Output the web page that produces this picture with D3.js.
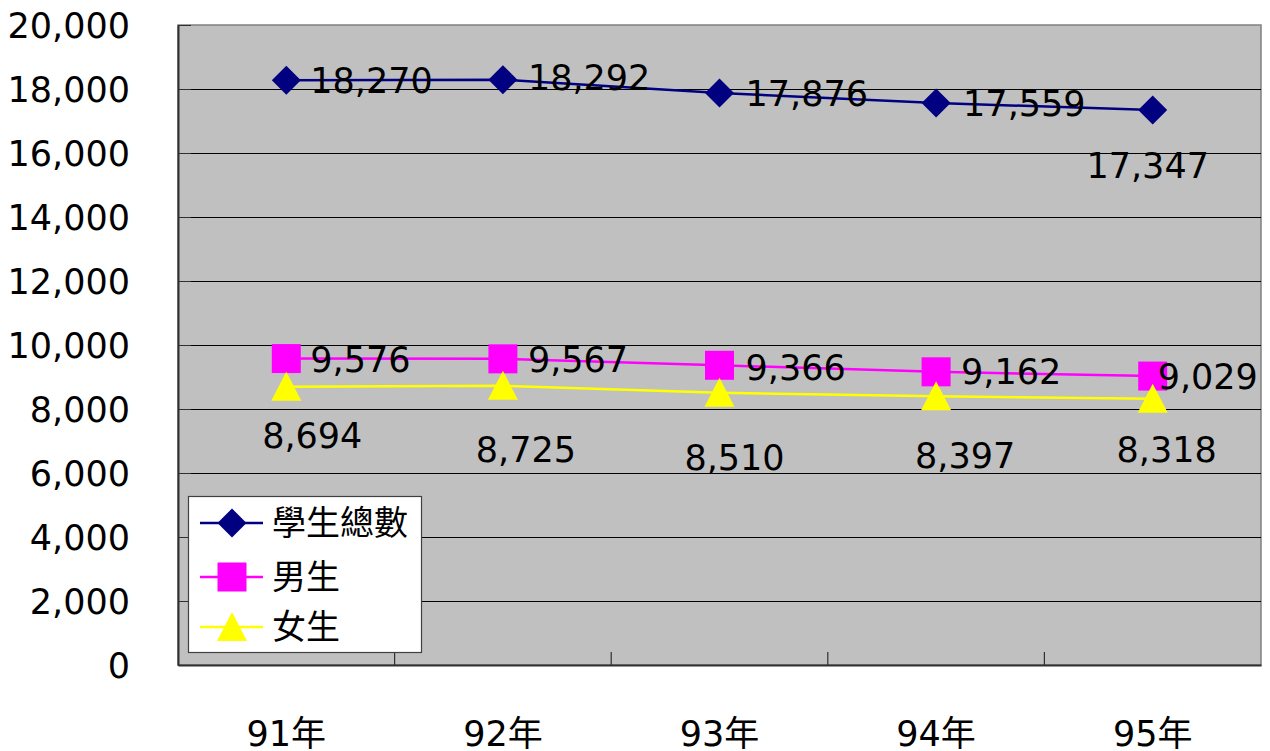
<!DOCTYPE html>
<html><head><meta charset="utf-8">
<script src="https://cdn.jsdelivr.net/npm/d3@7"></script>
<style>body{margin:0;background:#fff}svg{display:block}</style>
</head><body>
<svg id="c" width="1270" height="751"></svg>
<script>
const categories = ["91年","92年","93年","94年","95年"];
const totalStudents = [18270,18292,17876,17559,17347];
const maleStudents = [9576,9567,9366,9162,9029];
const femaleStudents = [8694,8725,8510,8397,8318];
const yTicks = [0,2000,4000,6000,8000,10000,12000,14000,16000,18000,20000];
const seriesNames = ["學生總數","男生","女生"];

// label placement (offsets from the point, in px) – styling, not data
const labelPlacement = [
  [[24,0,"start"],[25,-2,"start"],[26,0,"start"],[27,0,"start"],[-5,56,"middle"]],
  [[24,1,"start"],[25,1,"start"],[26,2,"start"],[25,0,"start"],[5,0,"start"]],
  [[26,49,"middle"],[23,64,"middle"],[15,65,"middle"],[29,59,"middle"],[14,51,"middle"]]
];

const svg = d3.select("#c");
const L=178, R=1261, T=25, B=665;
const x = d3.scaleBand().domain(categories).range([L,R]).padding(0);
const y = d3.scaleLinear().domain([0,20000]).range([B,T]);
const fmt = d3.format(",");
const FONT = "'DejaVu Sans','Noto Sans CJK TC',sans-serif";

// plot background
svg.append("rect").attr("x",L).attr("y",T).attr("width",R-L).attr("height",B-T)
  .attr("fill","#c0c0c0").attr("stroke","#808080").attr("stroke-width",1.5);

// gridlines
svg.append("g").selectAll("line").data(yTicks.filter(d=>d>0&&d<20000)).join("line")
  .attr("x1",L).attr("x2",R).attr("y1",d=>Math.round(y(d))+0.5).attr("y2",d=>Math.round(y(d))+0.5)
  .attr("stroke","#000").attr("stroke-width",1);

// left axis
const yAxis = d3.axisLeft(y).tickValues(yTicks).tickFormat(fmt).tickSizeInner(-13).tickSizeOuter(0).tickPadding(48);
const gy = svg.append("g").attr("transform",`translate(${L},0)`).call(yAxis);
gy.select(".domain").attr("stroke","#303030").attr("stroke-width",2);
gy.selectAll(".tick line").attr("stroke","#303030");
gy.selectAll(".tick text").attr("font-family",FONT).attr("font-size",35).attr("fill","#000").attr("dy","0.36em");

// bottom axis
const xAxis = d3.axisBottom(x).tickSize(0).tickPadding(0);
const gx = svg.append("g").attr("transform",`translate(0,${B})`).call(xAxis);
gx.select(".domain").attr("stroke","#303030").attr("stroke-width",2);
gx.selectAll(".tick text").attr("font-family",FONT).attr("font-size",35).attr("fill","#000").attr("dy",null).attr("y",81);
// category boundary ticks (inside)
svg.append("g").selectAll("line").data(categories.slice(1)).join("line")
  .attr("x1",d=>x(d)).attr("x2",d=>x(d)).attr("y1",B).attr("y2",B-13)
  .attr("stroke","#303030").attr("stroke-width",1.2);

const series = [
  {name:seriesNames[0], values:totalStudents, color:"#000080", marker:"diamond"},
  {name:seriesNames[1], values:maleStudents, color:"#ff00ff", marker:"square"},
  {name:seriesNames[2], values:femaleStudents, color:"#ffff00", marker:"triangle"}
];
const cx = d => x(d)+x.bandwidth()/2;
const markerPath = {
  diamond: d3.symbol().type(d3.symbolDiamond2).size(400),
  square: d3.symbol().type(d3.symbolSquare).size(841),
  triangle: d3.symbol().type(d3.symbolTriangle2).size(420)
};
function drawMarker(g, type, px, py, color){
  if(type==="triangle"){
    g.append("path").attr("d",`M${px},${py-15}L${px+15},${py+14}L${px-15},${py+14}Z`).attr("fill",color);
  } else if(type==="square"){
    g.append("rect").attr("x",px-14.5).attr("y",py-14.5).attr("width",29).attr("height",29).attr("fill",color);
  } else {
    g.append("path").attr("d",`M${px},${py-14.5}L${px+14.5},${py}L${px},${py+14.5}L${px-14.5},${py}Z`).attr("fill",color);
  }
}
const line = d3.line().x((d,i)=>cx(categories[i])).y(d=>y(d));
series.forEach((s,si)=>{
  const g = svg.append("g");
  g.append("path").attr("d",line(s.values)).attr("fill","none").attr("stroke",s.color).attr("stroke-width",2.5);
  s.values.forEach((v,i)=>drawMarker(g,s.marker,cx(categories[i]),y(v),s.color));
});
// data labels
series.forEach((s,si)=>{
  svg.append("g").selectAll("text").data(s.values).join("text")
    .attr("x",(d,i)=>cx(categories[i])+labelPlacement[si][i][0])
    .attr("y",(d,i)=>y(d)+labelPlacement[si][i][1])
    .attr("dy","0.36em")
    .attr("text-anchor",(d,i)=>labelPlacement[si][i][2])
    .attr("font-family",FONT).attr("font-size",35).attr("fill","#000")
    .text(d=>fmt(d));
});

// legend
const lg = svg.append("g");
lg.append("rect").attr("x",188.5).attr("y",496.5).attr("width",233).attr("height",156)
  .attr("fill","#fff").attr("stroke","#404040").attr("stroke-width",1.2);
const rowsY = [523,577,627];
series.forEach((s,i)=>{
  lg.append("line").attr("x1",200).attr("x2",263).attr("y1",rowsY[i]).attr("y2",rowsY[i])
    .attr("stroke",s.color).attr("stroke-width",2.5);
  drawMarker(lg,s.marker,232,rowsY[i],s.color);
  lg.append("text").attr("x",272).attr("y",rowsY[i]).attr("dy","0.36em")
    .attr("font-family","'Noto Sans CJK TC',sans-serif").attr("font-size",34).attr("fill","#000")
    .text(s.name);
});
</script>
</body></html>
